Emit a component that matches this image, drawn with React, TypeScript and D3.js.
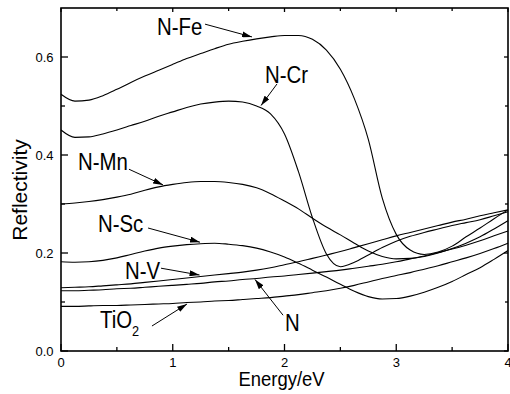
import * as d3 from "d3"

// energy grid (eV)
const energy = [
  0, 0.125, 0.25, 0.375, 0.5, 0.625, 0.75, 0.875, 1, 1.125, 1.25, 1.375, 1.5, 1.625, 1.75, 1.875,
  2, 2.125, 2.25, 2.375, 2.5, 2.625, 2.75, 2.875, 3, 3.125, 3.25, 3.375, 3.5, 3.625, 3.75, 3.875, 4,
]

const nFe = [
  0.524, 0.51, 0.512, 0.521, 0.534, 0.548, 0.561, 0.573, 0.585, 0.597, 0.607, 0.617, 0.626, 0.632, 0.637, 0.641,
  0.644, 0.644, 0.636, 0.614, 0.575, 0.515, 0.432, 0.312, 0.238, 0.206, 0.197, 0.202, 0.214, 0.233, 0.251, 0.27, 0.288,
]
const nCr = [
  0.451, 0.436, 0.437, 0.443, 0.451, 0.46, 0.469, 0.479, 0.488, 0.497, 0.504, 0.508, 0.51, 0.508, 0.5, 0.484,
  0.443, 0.366, 0.272, 0.198, 0.172, 0.181, 0.196, 0.211, 0.224, 0.234, 0.242, 0.249, 0.256, 0.262, 0.268, 0.276, 0.284,
]
const nMn = [
  0.3, 0.302, 0.305, 0.309, 0.314, 0.32, 0.328, 0.335, 0.34, 0.344, 0.346, 0.346, 0.344, 0.34, 0.333, 0.321,
  0.306, 0.29, 0.271, 0.253, 0.237, 0.22, 0.204, 0.193, 0.188, 0.189, 0.193, 0.2, 0.209, 0.22, 0.233, 0.249, 0.266,
]
const nSc = [
  0.182, 0.181, 0.182, 0.185, 0.19, 0.197, 0.204, 0.21, 0.214, 0.217, 0.219, 0.22, 0.218, 0.215, 0.21, 0.202,
  0.192, 0.179, 0.165, 0.151, 0.136, 0.122, 0.111, 0.106, 0.107, 0.112, 0.12, 0.13, 0.142, 0.156, 0.17, 0.187, 0.205,
]
const nV = [
  0.129, 0.13, 0.131, 0.133, 0.135, 0.137, 0.14, 0.143, 0.146, 0.149, 0.152, 0.155, 0.158, 0.161, 0.165, 0.17,
  0.176, 0.182, 0.189, 0.196, 0.203, 0.211, 0.219, 0.227, 0.235, 0.242, 0.249, 0.256, 0.263, 0.269, 0.276, 0.282, 0.288,
]
const nOnly = [
  0.123, 0.123, 0.124, 0.125, 0.127, 0.128, 0.13, 0.132, 0.134, 0.136, 0.138, 0.141, 0.143, 0.146, 0.148, 0.151,
  0.153, 0.156, 0.159, 0.162, 0.165, 0.169, 0.173, 0.177, 0.182, 0.188, 0.194, 0.201, 0.208, 0.216, 0.225, 0.235, 0.245,
]
const tio2 = [
  0.091, 0.091, 0.092, 0.093, 0.093, 0.094, 0.095, 0.096, 0.097, 0.099, 0.1, 0.102, 0.103, 0.105, 0.107, 0.109,
  0.112, 0.115, 0.119, 0.123, 0.128, 0.134, 0.141, 0.148, 0.154, 0.16, 0.167, 0.174, 0.182, 0.19, 0.199, 0.209, 0.22,
]

const series = [nFe, nCr, nMn, nSc, nV, nOnly, tio2]

const xMajor = [0, 1, 2, 3, 4]
const xMinor = [0.5, 1.5, 2.5, 3.5]
const yMajor = [0, 0.2, 0.4, 0.6]
const yMinor = [0.1, 0.3, 0.5]

// label: text anchor (E, R), arrow tail and tip in data units
const notes = [
  { label: "N-Fe", t: [0.859, 0.645], from: [1.289, 0.667], to: [1.709, 0.641] },
  { label: "N-Cr", t: [1.825, 0.547], from: [1.933, 0.545], to: [1.79, 0.501] },
  { label: "N-Mn", t: [0.152, 0.369], from: [0.608, 0.371], to: [0.913, 0.339] },
  { label: "N-Sc", t: [0.331, 0.243], from: [0.779, 0.251], to: [1.244, 0.222] },
  { label: "N-V", t: [0.573, 0.147], from: [0.895, 0.169], to: [1.24, 0.155] },
  { label: "TiO2", t: [0.349, 0.047], from: [0.814, 0.051], to: [1.128, 0.096] },
  { label: "N", t: [2.004, 0.041], from: [1.987, 0.073], to: [1.736, 0.146] },
]

const W = 510
const H = 394
const left = 61
const right = 508
const top = 8
const bottom = 351
const font = "'Liberation Sans', Arial, sans-serif"

export default function App() {
  const x = d3.scaleLinear().domain([0, 4]).range([left, right])
  const y = d3.scaleLinear().domain([0, 0.7]).range([bottom, top])

  const line = d3
    .line<number>()
    .x((_, i) => x(energy[i]))
    .y((d) => y(d))
    .curve(d3.curveMonotoneX)

  const tick = (len: number) => len

  return (
    <svg width={W} height={H} style={{ position: "absolute", left: 0, top: 0, background: "#fff" }}>
      <defs>
        <marker id="arr" viewBox="0 0 10 6" refX="10" refY="3" markerWidth="10" markerHeight="6" markerUnits="userSpaceOnUse" orient="auto">
          <path d="M0,0 L10,3 L0,6 z" fill="#000" />
        </marker>
      </defs>

      {series.map((s, i) => (
        <path key={i} d={line(s) ?? ""} fill="none" stroke="#000" strokeWidth={1.1} />
      ))}

      {/* frame */}
      <rect x={left} y={top} width={right - left} height={bottom - top} fill="none" stroke="#000" strokeWidth={1.6} />

      {/* x ticks, bottom and top */}
      {xMajor.map((v) => (
        <g key={"xM" + v}>
          <line x1={x(v)} x2={x(v)} y1={bottom} y2={bottom - tick(7)} stroke="#000" strokeWidth={1.3} />
          <line x1={x(v)} x2={x(v)} y1={top} y2={top + tick(4)} stroke="#000" strokeWidth={1.3} />
          <text x={x(v)} y={366.5} textAnchor="middle" fontFamily={font} fontSize={13}>
            {d3.format("d")(v)}
          </text>
        </g>
      ))}
      {xMinor.map((v) => (
        <g key={"xm" + v}>
          <line x1={x(v)} x2={x(v)} y1={bottom} y2={bottom - tick(4)} stroke="#000" strokeWidth={1.3} />
          <line x1={x(v)} x2={x(v)} y1={top} y2={top + tick(3)} stroke="#000" strokeWidth={1.3} />
        </g>
      ))}

      {/* y ticks, left and right */}
      {yMajor.map((v) => (
        <g key={"yM" + v}>
          <line x1={left} x2={left + tick(7)} y1={y(v)} y2={y(v)} stroke="#000" strokeWidth={1.3} />
          <line x1={right} x2={right - tick(4)} y1={y(v)} y2={y(v)} stroke="#000" strokeWidth={1.3} />
          <text x={53.5} y={y(v) + 4.6} textAnchor="end" fontFamily={font} fontSize={13}>
            {d3.format(".1f")(v)}
          </text>
        </g>
      ))}
      {yMinor.map((v) => (
        <g key={"ym" + v}>
          <line x1={left} x2={left + tick(4)} y1={y(v)} y2={y(v)} stroke="#000" strokeWidth={1.3} />
          <line x1={right} x2={right - tick(3)} y1={y(v)} y2={y(v)} stroke="#000" strokeWidth={1.3} />
        </g>
      ))}

      {/* axis titles */}
      <text
        transform={`translate(${(left + right) / 2 - 3},386) scale(0.9,1)`}
        textAnchor="middle"
        fontFamily={font}
        fontSize={20.5}
      >
        Energy/eV
      </text>
      <text transform={`translate(27,${190}) rotate(-90)`} textAnchor="middle" fontFamily={font} fontSize={21}>
        Reflectivity
      </text>

      {/* annotations */}
      {notes.map((n) => (
        <g key={n.label}>
          <line
            x1={x(n.from[0])}
            y1={y(n.from[1])}
            x2={x(n.to[0])}
            y2={y(n.to[1])}
            stroke="#000"
            strokeWidth={1}
            markerEnd="url(#arr)"
          />
          <text transform={`translate(${x(n.t[0])},${y(n.t[1])}) scale(0.85,1)`} fontFamily={font} fontSize={24}>
            {n.label === "TiO2" ? (
              <>
                <tspan>TiO</tspan>
                <tspan dy={8} fontSize={15}>
                  2
                </tspan>
              </>
            ) : (
              n.label
            )}
          </text>
        </g>
      ))}
    </svg>
  )
}
